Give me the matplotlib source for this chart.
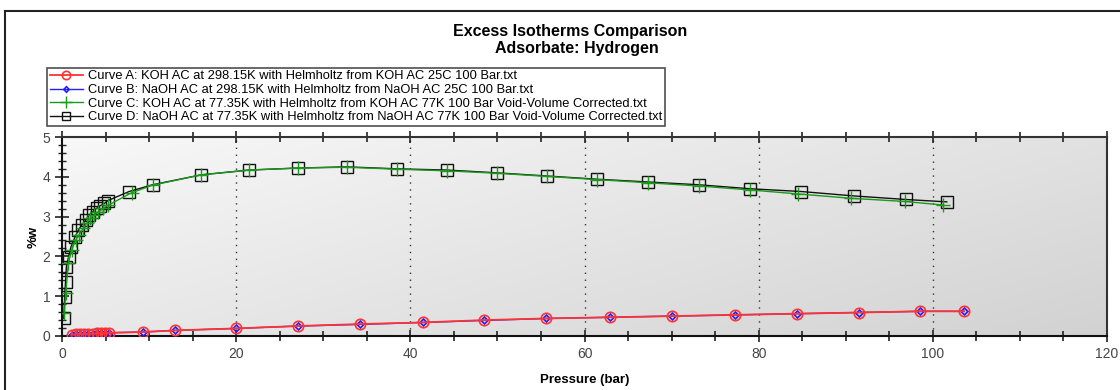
#!/usr/bin/env python3
"""Excess isotherms comparison (hydrogen) - KOH / NaOH activated carbon."""

import matplotlib
matplotlib.use("Agg")
import matplotlib.pyplot as plt
import numpy as np
from matplotlib.colors import LinearSegmentedColormap
from matplotlib.lines import Line2D
from matplotlib.ticker import MultipleLocator

plt.rcParams["font.family"] = ["Liberation Sans", "DejaVu Sans"]

# Curve A: KOH AC 298.15 K
pres_a = [1.1, 1.57, 2.07, 2.56, 3.0, 3.5, 4.0, 4.5, 4.9, 5.4, 9.3, 13.0, 20.0,
          27.1, 34.2, 41.4, 48.5, 55.6, 62.9, 70.1, 77.3, 84.4, 91.5, 98.5, 103.6]
wt_a = [0.03, 0.04, 0.045, 0.05, 0.055, 0.06, 0.065, 0.07, 0.075, 0.08, 0.10, 0.14, 0.19,
        0.25, 0.30, 0.34, 0.40, 0.44, 0.47, 0.50, 0.53, 0.56, 0.59, 0.62, 0.62]

# Curve B: NaOH AC 298.15 K (almost on top of A)
pres_b = [1.1, 1.57, 2.07, 2.56, 3.0, 3.5, 4.0, 4.5, 4.9, 5.4, 9.3, 13.0, 20.0,
          27.1, 34.2, 41.4, 48.5, 55.6, 62.9, 70.1, 77.3, 84.4, 91.5, 98.5, 103.6]
wt_b = [0.03, 0.04, 0.045, 0.05, 0.055, 0.06, 0.065, 0.07, 0.075, 0.08, 0.10, 0.14, 0.19,
        0.25, 0.29, 0.34, 0.39, 0.44, 0.47, 0.50, 0.53, 0.56, 0.59, 0.62, 0.62]

# Curve C: KOH AC 77.35 K
pres_c = [0.26, 0.42, 0.73, 1.11, 1.57, 1.95, 2.45, 2.83, 3.21, 3.71, 4.17, 4.74, 5.32,
          8.0, 10.4, 16.0, 21.5, 27.1, 32.7, 38.5, 44.2, 49.9, 55.7, 61.4, 67.3,
          73.1, 79.0, 84.5, 90.6, 96.8, 101.2]
wt_c = [0.57, 1.08, 1.83, 2.16, 2.41, 2.54, 2.71, 2.83, 2.96, 3.04, 3.12, 3.21, 3.29,
        3.60, 3.79, 4.05, 4.17, 4.22, 4.24, 4.19, 4.15, 4.09, 4.01, 3.93, 3.85,
        3.77, 3.67, 3.57, 3.46, 3.38, 3.29]

# Curve D: NaOH AC 77.35 K
pres_d = [0.2, 0.3, 0.4, 0.5, 0.75, 1.03, 1.49, 1.88, 2.26, 2.72, 3.14, 3.52, 3.98,
          4.36, 4.86, 5.24, 7.7, 10.4, 16.0, 21.5, 27.1, 32.7, 38.5, 44.2, 49.9,
          55.7, 61.4, 67.3, 73.1, 79.0, 84.9, 90.9, 96.9, 101.6]
wt_d = [0.44, 0.99, 1.36, 1.74, 1.99, 2.24, 2.49, 2.66, 2.79, 2.91, 3.04, 3.12, 3.21,
        3.27, 3.33, 3.40, 3.63, 3.80, 4.05, 4.17, 4.22, 4.25, 4.20, 4.17, 4.10,
        4.02, 3.94, 3.87, 3.80, 3.70, 3.63, 3.52, 3.43, 3.37]

labels = [
    "Curve A: KOH AC at 298.15K with Helmholtz from KOH AC 25C 100 Bar.txt",
    "Curve B: NaOH AC at 298.15K with Helmholtz from NaOH AC 25C 100 Bar.txt",
    "Curve C: KOH AC at 77.35K with Helmholtz from KOH AC 77K 100 Bar Void-Volume Corrected.txt",
    "Curve D: NaOH AC at 77.35K with Helmholtz from NaOH AC 77K 100 Bar Void-Volume Corrected.txt",
]

fig = plt.figure(figsize=(11.2, 3.9), dpi=100)
fig.patch.set_facecolor("white")
ax = fig.add_axes([0.0554, 0.1385, 0.9330, 0.5102])

# diagonal grey gradient background (light top-left -> darker bottom-right)
gx, gy = np.meshgrid(np.linspace(0, 1, 200), np.linspace(0, 1, 100))
grad = 0.6 * gx + 0.4 * (1 - gy)
bg_cmap = LinearSegmentedColormap.from_list("bg", ["#f8f8f8", "#d2d2d2"])
ax.imshow(grad, extent=[0, 1, 0, 1], transform=ax.transAxes, cmap=bg_cmap,
          vmin=0, vmax=1, aspect="auto", zorder=0, origin="lower")

ax.plot(pres_a, wt_a, color="#ff3333", lw=1.3, marker="o", ms=7.5, mfc="none",
        mec="#ff3333", mew=1.2, label=labels[0], zorder=3.5)
ax.plot(pres_b, wt_b, color="#2020ff", lw=1.0, marker="D", ms=3.5, mfc="none",
        mec="#2020ff", mew=1.2, label=labels[1], zorder=3)
ax.plot(pres_c, wt_c, color="#1a9a1a", lw=1.0, marker="+", ms=10, mew=1.0,
        label=labels[2], zorder=4)
ax.plot(pres_d, wt_d, color="#111111", lw=1.0, marker="s", ms=8, mfc="none",
        mec="#111111", mew=1.0, label=labels[3], zorder=3)

ax.set_xlim(0, 120)
ax.set_ylim(0, 5)
ax.xaxis.set_major_locator(MultipleLocator(20))
ax.xaxis.set_minor_locator(MultipleLocator(5))
ax.yaxis.set_major_locator(MultipleLocator(1))
ax.yaxis.set_minor_locator(MultipleLocator(0.2))
ax.tick_params(axis="x", which="both", direction="inout", top=True, colors="#222222",
               labelcolor="#444444", labelsize=10)
ax.tick_params(axis="x", which="major", length=9, width=1.2)
ax.tick_params(axis="x", which="minor", length=7, width=1.2)
ax.tick_params(axis="y", which="both", direction="inout", colors="#222222",
               labelcolor="#444444", labelsize=10)
ax.tick_params(axis="y", which="major", length=10, width=1.2)
ax.tick_params(axis="y", which="minor", length=6, width=1.0)
for sp in ax.spines.values():
    sp.set_color("#333333")
    sp.set_linewidth(1.5)
ax.spines["left"].set_color("#111111")
ax.spines["bottom"].set_color("#111111")

for xv in range(20, 120, 20):
    ax.axvline(xv, color="#333333", lw=1.0, ls=(0, (1, 4)), zorder=1)

ax.set_xlabel("Pressure (bar)", fontsize=9.5, fontweight="bold", labelpad=9)
ax.set_ylabel("%w", fontsize=9.5, fontweight="bold", labelpad=2)

fig.text(0.509, 0.918, "Excess Isotherms Comparison", ha="center", va="center",
         fontsize=11.5, fontweight="bold")
fig.text(0.515, 0.875, "Adsorbate: Hydrogen", ha="center", va="center",
         fontsize=11.5, fontweight="bold")

handles, labs = ax.get_legend_handles_labels()
leg = fig.legend(handles, labs,
                 loc="upper left", bbox_to_anchor=(0.042, 0.826), fontsize=9.3,
                 frameon=True, fancybox=False, handlelength=2.6, borderpad=0.2,
                 labelspacing=0.12, handletextpad=0.35, borderaxespad=0.0,
                 markerscale=0.8)
leg.get_frame().set_edgecolor("#222222")
leg.get_frame().set_linewidth(1.2)

# outer frame lines (top and left)
fig.add_artist(Line2D([0.0045, 1.0], [0.972, 0.972], transform=fig.transFigure,
                      color="#222222", lw=1.5))
fig.add_artist(Line2D([0.0045, 0.0045], [0.0, 0.972], transform=fig.transFigure,
                      color="#222222", lw=1.5))

fig.savefig("out.png", dpi=100, facecolor="white")
